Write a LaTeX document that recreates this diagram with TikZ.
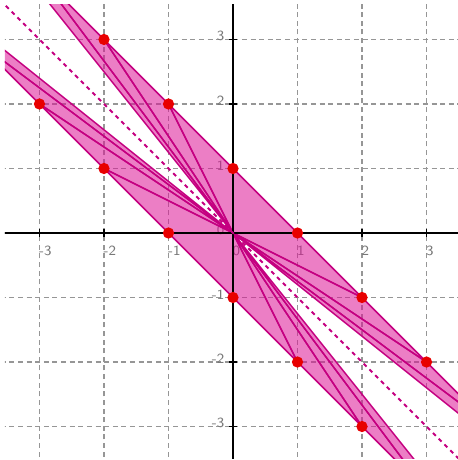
\documentclass[tikz,border=0pt]{standalone}
\usepackage{tikz}
\definecolor{fan}{RGB}{220,20,150}
\definecolor{fanedge}{RGB}{196,0,128}
\definecolor{dotred}{RGB}{232,0,0}
\definecolor{gridgray}{RGB}{150,150,150}
\definecolor{labgray}{RGB}{120,120,120}
\tikzset{
  gridln/.style={gridgray,line width=0.5pt,dash pattern=on 2.2pt off 1.6pt},
  axisln/.style={black,line width=1.1pt},
  tri/.style={fill=fan,fill opacity=0.55,draw=fanedge,draw opacity=1,line width=0.65pt,line join=round},
  diag/.style={fanedge,line width=0.85pt,dash pattern=on 1.8pt off 1.8pt},
  pt/.style={circle,fill=dotred,inner sep=0pt,minimum size=1.75mm},
  lab/.style={font=\sffamily\fontsize{6.2}{7}\selectfont,text=labgray,inner sep=0.5pt}
}
\begin{document}
\begin{tikzpicture}
  \useasboundingbox (-3.612,-3.519) rectangle (3.488,3.612);
  \begin{scope}
    \clip (-3.535,-3.49) rectangle (3.488,3.535);
    % grid
    \foreach \i in {-3,...,3} {
      \draw[gridln] (\i,-3.6) -- (\i,3.6);
      \draw[gridln] (-3.6,\i) -- (3.6,\i);
    }
    % tick labels
    \foreach \i in {-3,-2,-1,0,1,2,3} {
      \node[lab,anchor=north west] (xl\i) at ({\i-0.03},-0.18) {\i};
      \node[lab,anchor=east] (yl\i) at (-0.11,{\i+0.05}) {\i};
    }
    % triangles on x+y=1 and x+y=-1
    \foreach \a in {-4,...,4}
      \filldraw[tri] (0,0) -- (\a,{1-\a}) -- ({\a+1},{-\a}) -- cycle;
    \foreach \a in {-5,...,3}
      \filldraw[tri] (0,0) -- (\a,{-1-\a}) -- ({\a+1},{-2-\a}) -- cycle;
    % axes
    \draw[axisln] (-3.6,0) -- (3.6,0);
    \draw[axisln] (0,-3.6) -- (0,3.6);
    \foreach \i in {-3,-2,-1,1,2,3} {
      \draw[black,line width=0.8pt] (\i,-0.06) -- (\i,0.06);
      \draw[black,line width=0.8pt] (-0.06,\i) -- (0.06,\i);
    }
    % y = -x
    \draw[diag] (-3.7,3.7) -- (3.7,-3.7);
  \end{scope}
  % lattice points
  \foreach \x/\y/\n in {-2/3/a1,-1/2/a2,0/1/a3,1/0/a4,2/-1/a5,3/-2/a6,
                        -3/2/b1,-2/1/b2,-1/0/b3,0/-1/b4,1/-2/b5,2/-3/b6}
    \node[pt] (\n) at (\x,\y) {};
\end{tikzpicture}
\end{document}
